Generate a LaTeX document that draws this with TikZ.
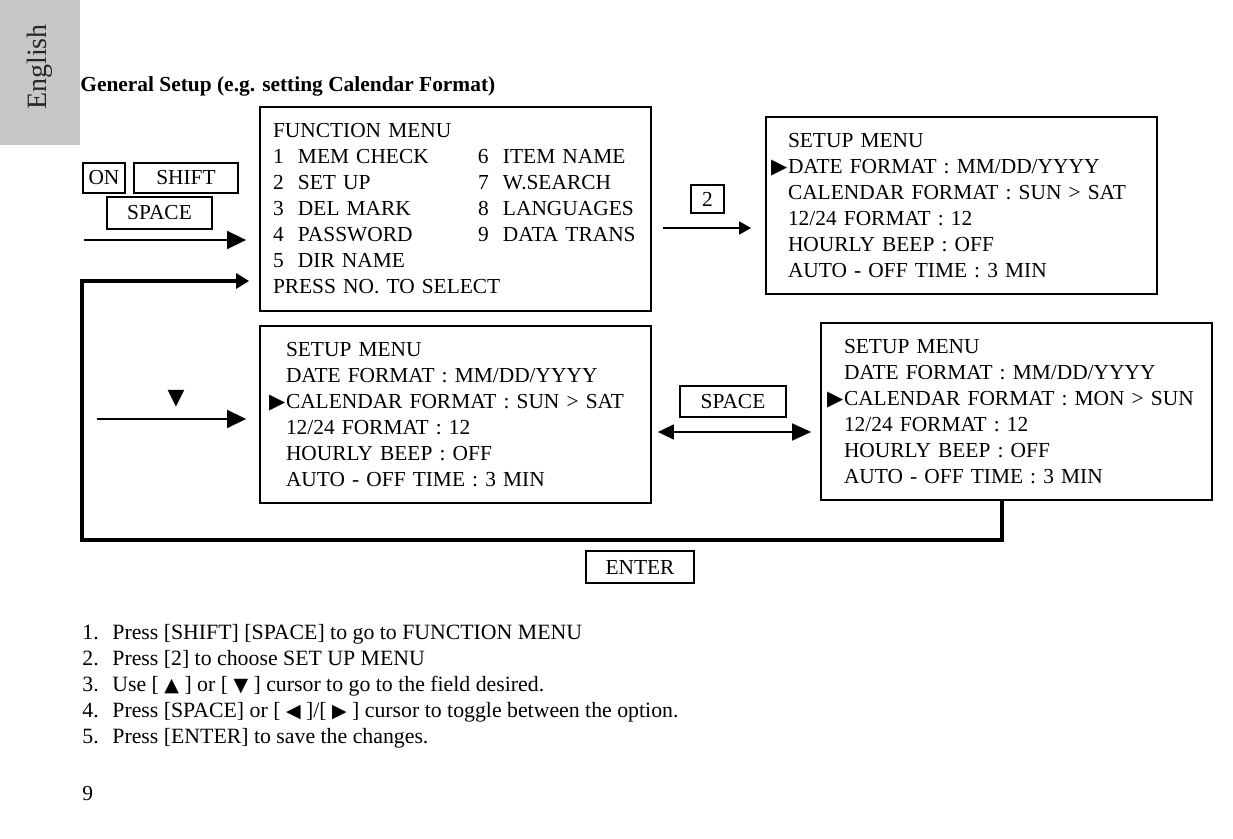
\documentclass[tikz,border=0pt]{standalone}
\usepackage{fontspec}
\setmainfont{Liberation Serif}
\newfontfamily\menuserif[WordSpace=0.78]{Liberation Serif}
\newfontfamily\symfont{DejaVu Sans}
\usetikzlibrary{arrows.meta,positioning}
\newcommand{\menufont}{\fontsize{10.7}{13}\selectfont}
\newcommand{\tightfont}{\menuserif\menufont}
\newcommand{\cursor}{\leavevmode\llap{{\symfont\fontsize{10.5}{10.5}\selectfont ▶}\hspace{0.4pt}}}
\newcommand{\fnum}[2]{\makebox[12.5pt][l]{#1}#2}
\newcommand{\fcol}[1]{\makebox[102.5pt][l]{#1}}
\newcommand{\sym}[1]{{\symfont\fontsize{9.5}{9.5}\selectfont #1}}

\tikzset{
  menubox/.style={draw, line width=0.9pt, align=left, inner ysep=0pt,
    minimum width=195.5pt, minimum height=88.5pt, font=\tightfont},
  keybox/.style={draw, line width=0.9pt, inner sep=0pt, font=\menufont},
  flow/.style={line width=0.8pt, -{Triangle[length=6pt,width=6.5pt]}},
  bigflow/.style={line width=0.8pt, -{Triangle[length=9.5pt,width=9pt]}},
  loopline/.style={line width=1.8pt, -{Triangle[length=6.5pt,width=7.5pt]}},
}

\begin{document}
\begin{tikzpicture}[x=0.5pt, y=-0.5pt]
\useasboundingbox (0,0) rectangle (1233,839);
% language tab
\fill[black!22] (0,0) rectangle (80,145);
\node[rotate=90, inner sep=0pt, font=\fontsize{14}{14}\selectfont, text=black!85] (tab) at (40,67) {English};
\node[anchor=base west, inner sep=0pt, font=\bfseries\menufont] (title) at (80,92) {General Setup (e.g. setting Calendar Format)};

% keys
\node[keybox, minimum width=21pt, minimum height=15pt] (on) at (104,178) {ON};
\node[keybox, minimum width=52pt, minimum height=15pt] (shift) at (186,178) {SHIFT};
\node[keybox, minimum width=52.5pt, minimum height=16pt] (space) at (159.5,213) {SPACE};
\node[keybox, minimum width=16.5pt, minimum height=14pt] (two) at (707.5,199) {2};
\node[keybox, minimum width=53pt, minimum height=15.5pt] (toggle) at (733,401.5) {SPACE};
\node[keybox, minimum width=54pt, minimum height=16pt] (enter) at (640,567) {ENTER};
\node[inner sep=0pt, font=\symfont\fontsize{11}{11}\selectfont] (down) at (176,399) {▼};

% menus
\node[menubox, font=\menufont, minimum height=102pt, inner xsep=6.5pt, text width=182.5pt] (fmenu) at (455.5,209) {%
FUNCTION MENU\\
\fcol{\fnum{1}{MEM CHECK}}\fnum{6}{ITEM NAME}\\
\fcol{\fnum{2}{SET UP}}\fnum{7}{W.SEARCH}\\
\fcol{\fnum{3}{DEL MARK}}\fnum{8}{LANGUAGES}\\
\fcol{\fnum{4}{PASSWORD}}\fnum{9}{DATA TRANS}\\
\fnum{5}{DIR NAME}\\
PRESS NO. TO SELECT};
\node[menubox, inner xsep=11pt, text width=173.5pt] (setup) at (961.5,205.5) {%
SETUP MENU\\
\cursor DATE FORMAT : MM/DD/YYYY\\
CALENDAR FORMAT : SUN > SAT\\
12/24 FORMAT : 12\\
HOURLY BEEP : OFF\\
AUTO - OFF TIME : 3 MIN};
\node[menubox, inner xsep=13pt, text width=169.5pt] (calsun) at (455.5,414.5) {%
SETUP MENU\\
DATE FORMAT : MM/DD/YYYY\\
\cursor CALENDAR FORMAT : SUN > SAT\\
12/24 FORMAT : 12\\
HOURLY BEEP : OFF\\
AUTO - OFF TIME : 3 MIN};
\node[menubox, inner xsep=11.5pt, text width=172.5pt] (calmon) at (1016.5,411.5) {%
SETUP MENU\\
DATE FORMAT : MM/DD/YYYY\\
\cursor\mbox{CALENDAR FORMAT : MON > SUN}\\
12/24 FORMAT : 12\\
HOURLY BEEP : OFF\\
AUTO - OFF TIME : 3 MIN};

% connectors
\coordinate (keysout) at (84,240);
\coordinate (twoout) at (663,228);
\coordinate (downout) at (97,419);
\coordinate (drop) at (1002,540);
\coordinate (corner) at (82,540);
\coordinate (loopin) at (82,281);
\draw[bigflow] (keysout) -- ([xshift=-6.5pt]keysout -| fmenu.west);
\draw[flow] (twoout) -- ([xshift=-7pt]twoout -| setup.west);
\draw[bigflow] (downout) -- ([xshift=-6.5pt]downout -| calsun.west);
\draw[line width=0.8pt, {Triangle[length=8pt,width=7.5pt]}-{Triangle[length=9.5pt,width=8.5pt]}]
  ([xshift=3pt]calsun.east |- 0,432) -- ([xshift=-4.5pt]calmon.west |- 0,432);
\draw[loopline] (drop |- calmon.south) -- (drop) -- (corner) -- (loopin) -- ([xshift=-5pt]loopin -| fmenu.west);

% steps
\foreach \n/\txt [count=\i from 0] in {
  1/{Press [SHIFT] [SPACE] to go to FUNCTION MENU},
  2/{Press [2] to choose SET UP MENU},
  3/{Use [ \sym{▲} ] or [ \sym{▼} ] cursor to go to the field desired.},
  4/{Press [SPACE] or [ \sym{◀} ]/[ \sym{▶} ] cursor to toggle between the option.},
  5/{Press [ENTER] to save the changes.}}
  \node[anchor=base west, inner sep=0pt, font=\fontsize{10.9}{13}\selectfont] (step\n) at (82,640+26*\i) {\makebox[15pt][l]{\n.}\txt};
\node[anchor=base west, inner sep=0pt, font=\menufont] (page) at (82,800) {9};
\end{tikzpicture}
\end{document}
